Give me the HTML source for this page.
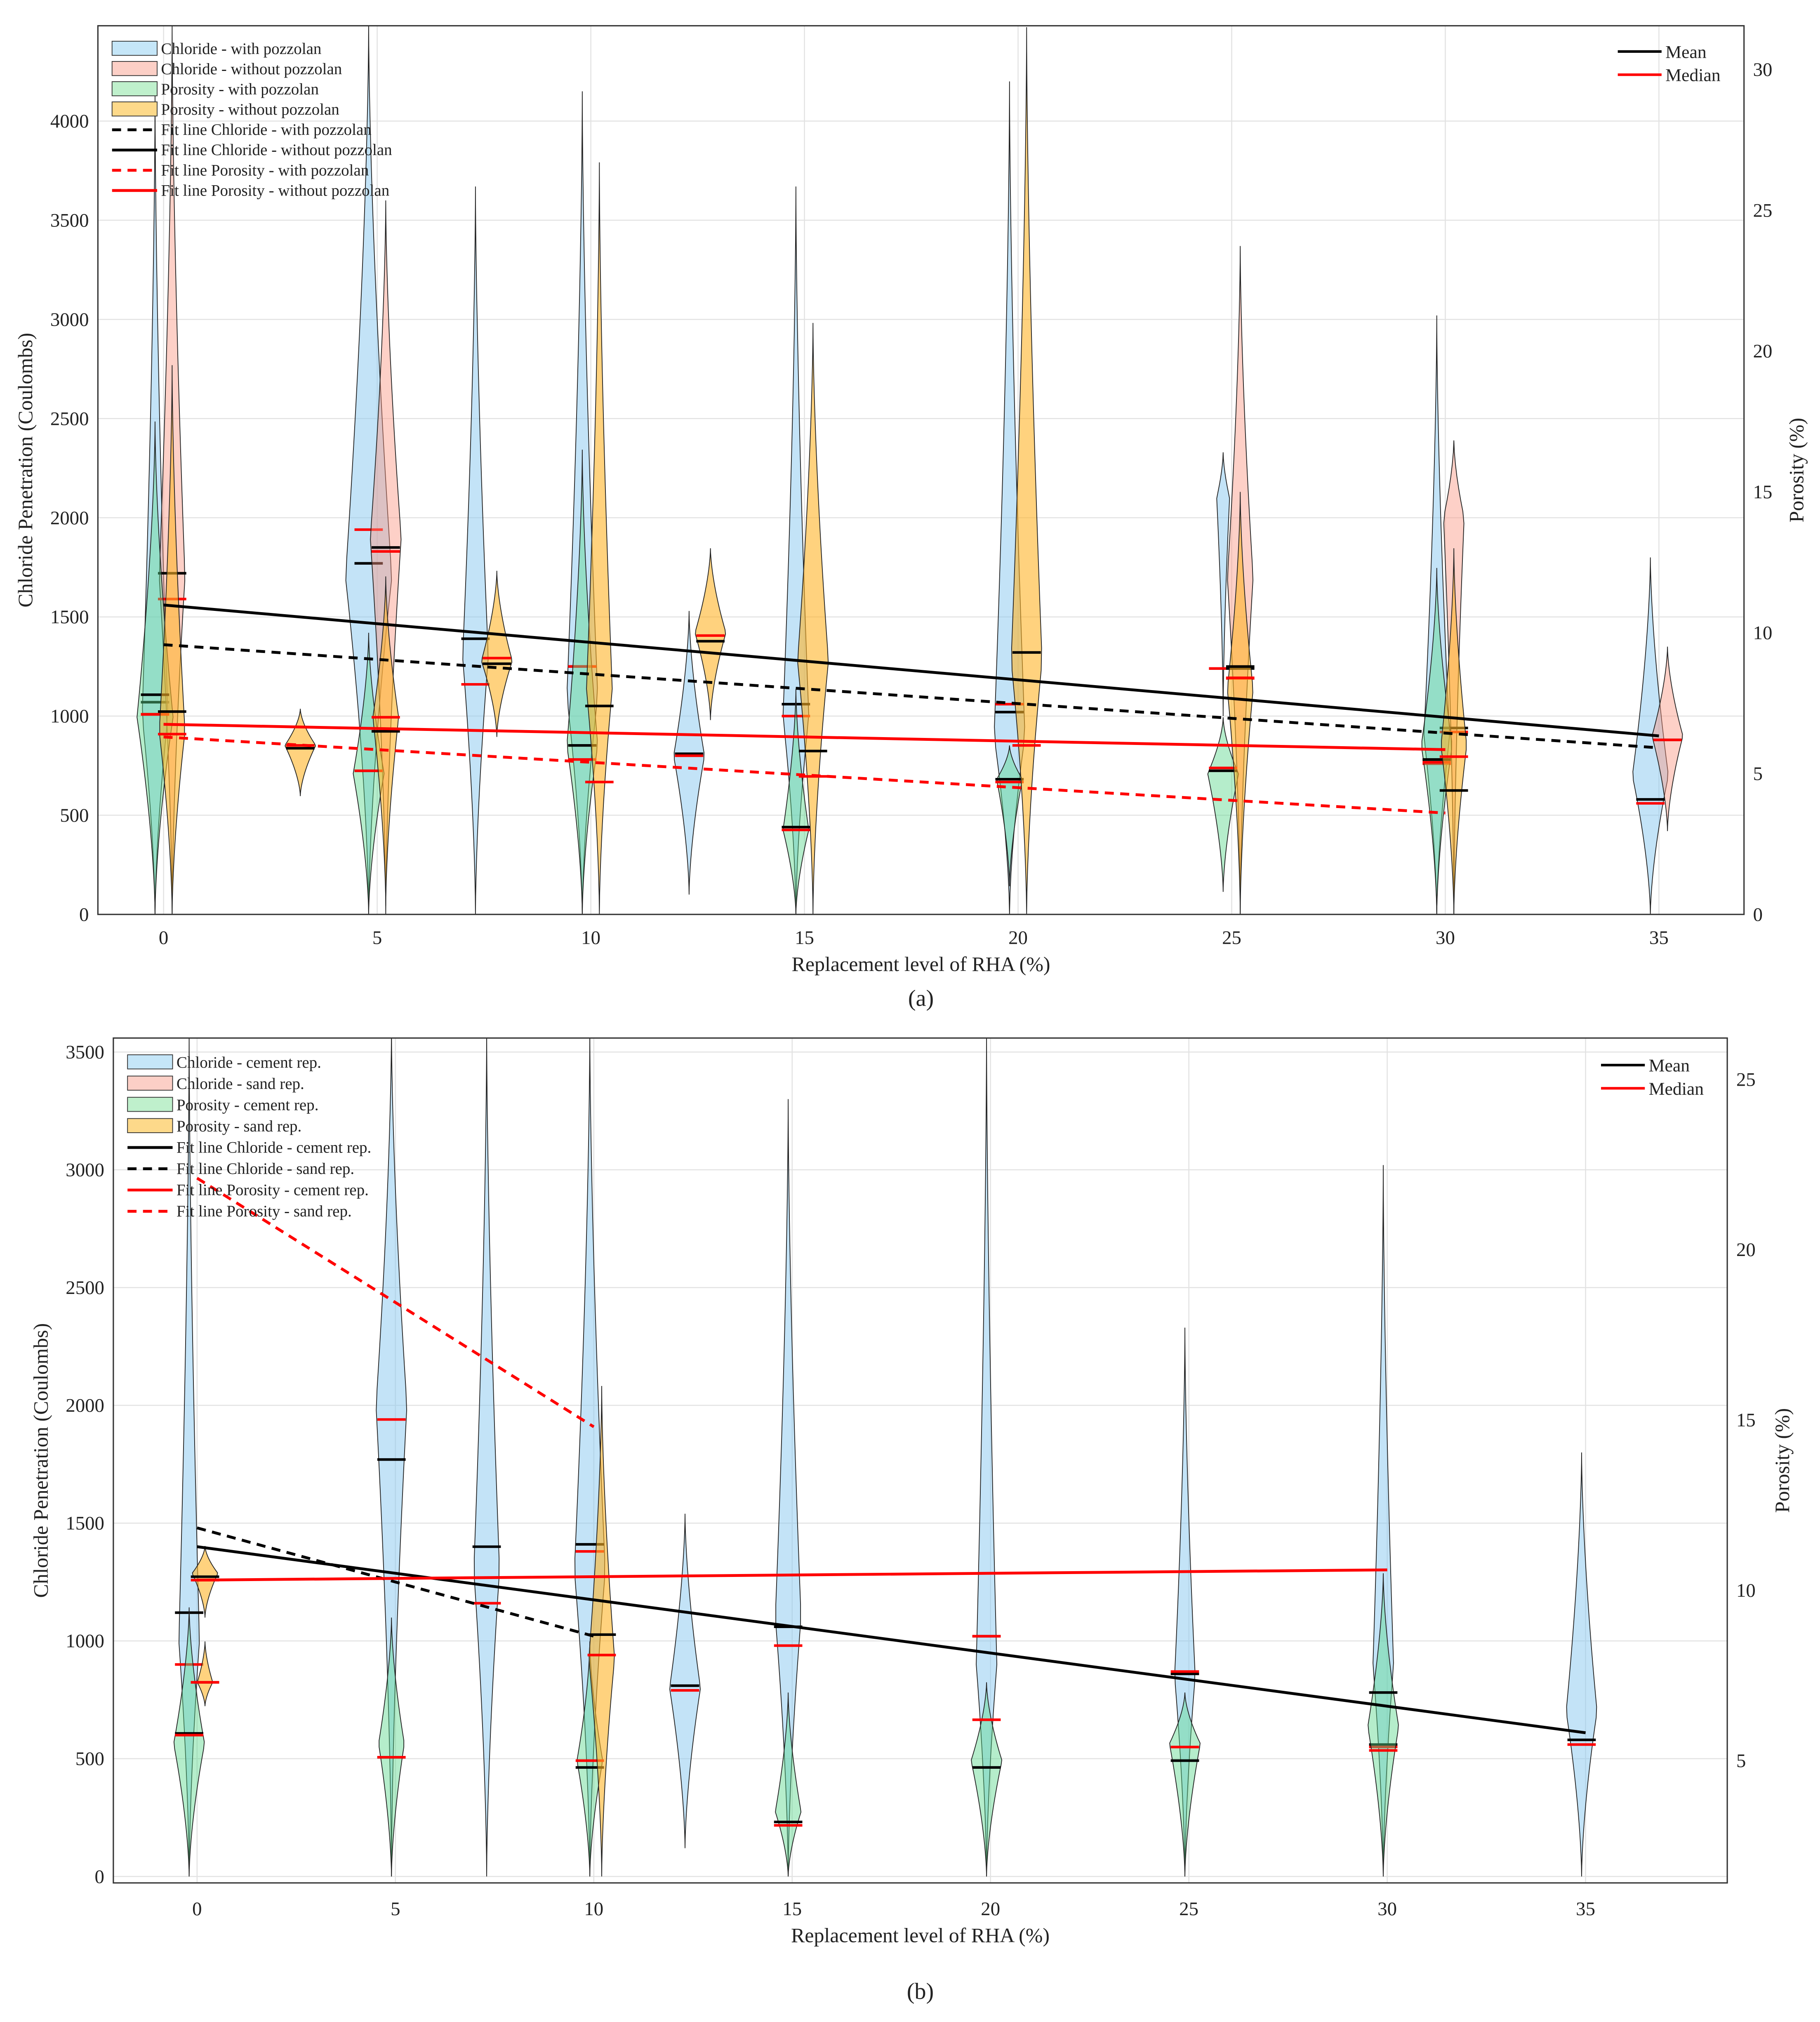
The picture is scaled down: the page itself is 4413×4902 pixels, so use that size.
<!DOCTYPE html>
<html><head><meta charset="utf-8"><style>
html,body{margin:0;padding:0;background:#fff}
svg{display:block}
text{font-family:"Liberation Serif",serif;fill:#222}
</style></head><body>
<svg id="chart" width="4413" height="4902" viewBox="0 0 1413 1570" preserveAspectRatio="none" xmlns="http://www.w3.org/2000/svg"></svg>
<script>
// ---------- DATA ----------
// Panel (a) violins: [xPosition, min, max, peak, halfWidthPx, mean, median]
const aChlWith = [[-0.2,0,4150,1000,10,1070,1010],[4.8,0,4490,1700,18,1770,1940],[7.3,0,3670,1300,10,1390,1160],[9.8,0,4150,1100,12,1250,1250],[12.3,100,1530,800,12,810,800],[14.8,0,3670,1000,10,1060,1000],[19.8,0,4200,900,12,1020,1060],[24.8,1000,2330,2100,5,1240,1240],[29.8,0,3020,900,10,780,760],[34.8,0,1800,700,14,580,560]];
const aChlWithout = [[0.2,0,4490,1700,10,1720,1590],[5.2,0,3600,1900,12,1850,1830],[25.2,0,3370,1700,10,1240,1190],[30.2,0,2390,2000,8,940,920],[35.2,420,1350,900,12,880,880]];
const aPorWith = [[-0.2,0,17.5,7,14,7.8,7.1],[4.8,0,10,5,12,5.1,5.1],[9.8,0,16.5,6,12,6.0,5.5],[14.8,0,8,3,10,3.1,3.0],[19.8,1,6,4.8,10,4.8,4.7],[24.8,0.8,7,5,12,5.1,5.2],[29.8,0,12.3,6,12,5.5,5.4]];
const aPorWithout = [[0.2,0,19.5,6.5,10,7.2,6.4],[3.2,4.2,7.3,6,12,5.9,6.0],[5.2,0.3,12,7,10,6.5,7.0],[7.8,6.3,12.2,9,12,8.9,9.1],[10.2,0,26.7,8,10,7.4,4.7],[12.8,6.9,13,10,12,9.7,9.9],[15.2,0,21,9,12,5.8,4.9],[20.2,0,31.5,9,12,9.3,6.0],[25.2,0,15,8,10,8.8,8.4],[30.2,0,13,6,10,4.4,5.6]];
// Fit lines [x0,y0,x1,y1]
const aFitChlWith = [0,1360,35,840];
const aFitChlWithout = [0,1560,35,900];
const aFitPorWith = [0,6.3,30,3.6];
const aFitPorWithout = [0,6.75,30,5.85];
// Panel (b)
const bChlCement = [[-0.2,0,3600,1000,8,1120,900],[4.9,0,3600,2000,12,1770,1940],[7.3,0,3600,1300,10,1400,1160],[9.9,0,3600,1300,12,1410,1380],[12.3,120,1540,800,12,810,790],[14.9,0,3300,1100,10,1060,980],[19.9,0,3600,900,8,1020,1020],[24.9,0,2330,850,8,860,870],[29.9,0,3020,900,8,560,550],[34.9,0,1800,700,12,580,560]];
const bPorCement = [[-0.2,1.6,9.5,5.5,12,5.8,5.75],[4.9,1.6,9.2,5.5,10,5.1,5.1],[9.9,1.6,8.5,5,10,4.8,5.0],[14.9,1.6,7,3.5,10,3.2,3.1],[19.9,1.6,7.3,5,12,4.8,6.2],[24.9,1.6,7,5.5,12,5.0,5.4],[29.9,1.6,10.5,6,12,7.0,5.3]];
const bPorSand = [[0.2,9.2,11.3,10.5,10,10.4,10.3],[0.2,6.6,8.5,7.3,6,7.3,7.3],[10.2,1.6,16,8,10,8.7,8.1]];
const bFitChlCement = [0,1400,35,610];
const bFitChlSand = [0,1480,10,1020];
const bFitPorCement = [0,10.3,30,10.6];
const bFitPorSand = [0,22.1,10,14.8];
const xTicks = [0,5,10,15,20,25,30,35];
const aYTicks = [0,500,1000,1500,2000,2500,3000,3500,4000];
const aRTicks = [0,5,10,15,20,25,30];
const bYTicks = [0,500,1000,1500,2000,2500,3000,3500];
const bRTicks = [5,10,15,20,25];

// ---------- DRAW ----------
const NS="http://www.w3.org/2000/svg", svg=document.getElementById('chart');
function mk(tag,attrs,parent){const e=document.createElementNS(NS,tag);for(const k in attrs)e.setAttribute(k,attrs[k]);(parent||svg).appendChild(e);return e;}
function txt(s,x,y,size,anchor,parent,rot){const t=mk('text',{x:x,y:y,'font-size':size,'text-anchor':anchor||'middle'},parent);if(rot)t.setAttribute('transform','rotate(-90 '+x+' '+y+')');t.textContent=s;return t;}

const COL={blue:'rgba(135,200,240,0.5)',salmon:'rgba(250,150,130,0.45)',green:'rgba(90,215,140,0.45)',orange:'rgba(255,180,40,0.6)'};

function panel(P){
  const g=mk('g',{});
  
  
  const X=v=>P.x0+(v-P.xv0)*P.xs, YL=v=>P.yb-(v-P.yl0)*P.yls, YR=v=>P.yb-(v-P.yr0)*P.yrs;
  xTicks.forEach(t=>{mk('line',{x1:X(t),x2:X(t),y1:P.top,y2:P.yb2,stroke:'#e2e2e2','stroke-width':0.8},g);});
  P.yTicks.forEach(t=>{mk('line',{x1:P.left,x2:P.right,y1:YL(t),y2:YL(t),stroke:'#e2e2e2','stroke-width':0.8},g);});
  const clip=mk('clipPath',{id:'clip'+P.name},g);mk('rect',{x:P.left,y:P.top,width:P.right-P.left,height:P.yb2-P.top},clip);
  const body=mk('g',{'clip-path':'url(#clip'+P.name+')'},g);
  function violins(arr,Y,col,nm){
    arr.forEach(d=>{
      const [xv,mn,mx,pk,hw,mean,med]=d, xc=X(xv);
      const N=40,pts=[];
      for(let i=0;i<=N;i++){const v=mn+(mx-mn)*i/N;const r=v<pk?(v-mn)/(pk-mn||1):(mx-v)/(mx-pk||1);pts.push([Y(v),hw*Math.pow(Math.max(r,0),1.6)]);}
      let dstr='M'+xc+','+pts[0][0];
      pts.forEach(p=>dstr+=' L'+(xc+p[1])+','+p[0]);
      for(let i=pts.length-1;i>=0;i--)dstr+=' L'+(xc-pts[i][1])+','+pts[i][0];
      const v=mk('path',{d:dstr+'Z',fill:col,stroke:'#222','stroke-width':0.6},body);
      
      
      const mL=mk('line',{x1:xc-11,x2:xc+11,y1:Y(mean),y2:Y(mean),stroke:'#000','stroke-width':2},body);
      
      
      const dL=mk('line',{x1:xc-11,x2:xc+11,y1:Y(med),y2:Y(med),stroke:'#f00','stroke-width':2},body);
      
      
    });
  }
  P.series.forEach(s=>violins(s.data,s.axis==='L'?YL:YR,s.col,s.nm));
  P.fits.forEach(f=>{const Y=f.axis==='L'?YL:YR;const l=mk('line',{x1:X(f.d[0]),y1:Y(f.d[1]),x2:X(f.d[2]),y2:Y(f.d[3]),stroke:f.c,'stroke-width':2.2,'stroke-dasharray':f.dash?'7,5':'none'},body);
    
    });
  mk('rect',{x:P.left,y:P.top,width:P.right-P.left,height:P.yb2-P.top,fill:'none',stroke:'#333','stroke-width':1},g);
  xTicks.forEach(t=>txt(String(t),X(t),P.xLblY,15,'middle',g));
  P.yTicks.forEach(t=>txt(String(t),P.left-7,YL(t)+5,15,'end',g));
  P.rTicks.forEach(t=>txt(String(t),P.right+7,YR(t)+5,15,'start',g));
  txt('Replacement level of RHA (%)',(P.left+P.right)/2,P.xTitleY,16,'middle',g);
  txt('Chloride Penetration (Coulombs)',P.ltX,(P.top+P.yb2)/2,16,'middle',g,true);
  txt('Porosity (%)',P.rtX,(P.top+P.yb2)/2,16,'middle',g,true);
  txt(P.label,(P.left+P.right)/2,P.labelY,18,'middle',g);
  let ly=P.legY;
  P.legend.forEach(L=>{
    if(L.box)mk('rect',{x:P.left+11,y:ly-6,width:35,height:11,fill:L.box,stroke:'#333','stroke-width':0.6},g);
    else mk('line',{x1:P.left+11,x2:P.left+46,y1:ly,y2:ly,stroke:L.c,'stroke-width':2.2,'stroke-dasharray':L.dash?'7,5':'none'},g);
    txt(L.t,P.left+49,ly+4,12.5,'start',g);ly+=P.legStep;});
  mk('line',{x1:P.right-98,x2:P.right-64,y1:P.legY2,y2:P.legY2,stroke:'#000','stroke-width':2},g);
  txt('Mean',P.right-61,P.legY2+5,14,'start',g);
  mk('line',{x1:P.right-98,x2:P.right-64,y1:P.legY2+18,y2:P.legY2+18,stroke:'#f00','stroke-width':2},g);
  txt('Median',P.right-61,P.legY2+23,14,'start',g);
}

panel({name:'panel-a',left:76,right:1354,top:20,yb:710,yb2:710,x0:127,xv0:0,xs:33.17,yl0:0,yls:0.154,yr0:0,yrs:21.87,
  yTicks:aYTicks,rTicks:aRTicks,xLblY:733,xTitleY:754,ltX:25,rtX:1400,label:'(a)',labelY:781,legY:38,legStep:15.7,legY2:40,
  series:[{data:aChlWith,axis:'L',col:COL.blue,nm:'chloride-with-pozzolan'},{data:aChlWithout,axis:'L',col:COL.salmon,nm:'chloride-without-pozzolan'},{data:aPorWith,axis:'R',col:COL.green,nm:'porosity-with-pozzolan'},{data:aPorWithout,axis:'R',col:COL.orange,nm:'porosity-without-pozzolan'}],
  fits:[{d:aFitChlWith,axis:'L',c:'#000',dash:1,nm:'fit-chloride-with'},{d:aFitChlWithout,axis:'L',c:'#000',dash:0,nm:'fit-chloride-without'},{d:aFitPorWith,axis:'R',c:'#f00',dash:1,nm:'fit-porosity-with'},{d:aFitPorWithout,axis:'R',c:'#f00',dash:0,nm:'fit-porosity-without'}],
  legend:[{box:'#c5e6f8',t:'Chloride - with pozzolan'},{box:'#fccfc6',t:'Chloride - without pozzolan'},{box:'#bff0cc',t:'Porosity - with pozzolan'},{box:'#fdd98a',t:'Porosity - without pozzolan'},{c:'#000',dash:1,t:'Fit line Chloride - with pozzolan'},{c:'#000',dash:0,t:'Fit line Chloride - without pozzolan'},{c:'#f00',dash:1,t:'Fit line Porosity - with pozzolan'},{c:'#f00',dash:0,t:'Fit line Porosity - without pozzolan'}]});

panel({name:'panel-b',left:88,right:1341,top:806,yb:1457,yb2:1462,x0:153,xv0:0,xs:30.8,yl0:0,yls:0.1829,yr0:1.6,yrs:26.45,
  yTicks:bYTicks,rTicks:bRTicks,xLblY:1487,xTitleY:1508,ltX:37,rtX:1389,label:'(b)',labelY:1552,legY:825,legStep:16.5,legY2:827,
  series:[{data:bChlCement,axis:'L',col:COL.blue,nm:'chloride-cement-rep'},{data:bPorCement,axis:'R',col:COL.green,nm:'porosity-cement-rep'},{data:bPorSand,axis:'R',col:COL.orange,nm:'porosity-sand-rep'}],
  fits:[{d:bFitChlCement,axis:'L',c:'#000',dash:0,nm:'fit-chloride-cement'},{d:bFitChlSand,axis:'L',c:'#000',dash:1,nm:'fit-chloride-sand'},{d:bFitPorCement,axis:'R',c:'#f00',dash:0,nm:'fit-porosity-cement'},{d:bFitPorSand,axis:'R',c:'#f00',dash:1,nm:'fit-porosity-sand'}],
  legend:[{box:'#c5e6f8',t:'Chloride - cement rep.'},{box:'#fccfc6',t:'Chloride - sand rep.'},{box:'#bff0cc',t:'Porosity - cement rep.'},{box:'#fdd98a',t:'Porosity - sand rep.'},{c:'#000',dash:0,t:'Fit line Chloride - cement rep.'},{c:'#000',dash:1,t:'Fit line Chloride - sand rep.'},{c:'#f00',dash:0,t:'Fit line Porosity - cement rep.'},{c:'#f00',dash:1,t:'Fit line Porosity - sand rep.'}]});
</script>
</body></html>
